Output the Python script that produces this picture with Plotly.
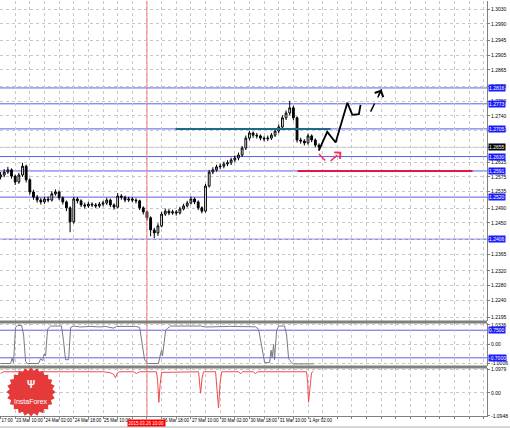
import numpy as np
import plotly.graph_objects as go
from plotly.subplots import make_subplots


GRID = "#C8C8C8"
AXIS = "#808080"
LEVEL_BLUE = "#5C5CF2"
LABEL_BLUE = "#1A1AFF"
TEAL = "#1F6A8A"
CRIMSON = "#E0184C"
FONT = "Liberation Sans"

# ---- price bars (x = hours from chart start, one candle per 2 H1 bars) ----
bar_hour = list(range(0, 176, 2))
bar_open = [1.2575, 1.2580, 1.2588, 1.2594, 1.2577, 1.2561, 1.2580, 1.2604, 1.2567, 1.2534,
            1.2520, 1.2512, 1.2507, 1.2515, 1.2512, 1.2529, 1.2534, 1.2518, 1.2507, 1.2491,
            1.2453, 1.2515, 1.2510, 1.2499, 1.2496, 1.2501, 1.2499, 1.2496, 1.2501, 1.2504,
            1.2512, 1.2499, 1.2493, 1.2523, 1.2520, 1.2512, 1.2515, 1.2512, 1.2510, 1.2491,
            1.2480, 1.2464, 1.2431, 1.2423, 1.2442, 1.2474, 1.2482, 1.2477, 1.2480, 1.2477,
            1.2488, 1.2496, 1.2504, 1.2515, 1.2507, 1.2491, 1.2482, 1.2550, 1.2588, 1.2594,
            1.2602, 1.2604, 1.2610, 1.2613, 1.2621, 1.2626, 1.2634, 1.2653, 1.2680, 1.2694,
            1.2688, 1.2686, 1.2680, 1.2678, 1.2680, 1.2688, 1.2699, 1.2710, 1.2735, 1.2748,
            1.2762, 1.2735, 1.2675, 1.2672, 1.2667, 1.2686, 1.2675, 1.2661]
bar_high = [1.2588, 1.2596, 1.2602, 1.2598, 1.2581, 1.2586, 1.2613, 1.2608, 1.2571, 1.2540,
            1.2526, 1.2518, 1.2521, 1.2522, 1.2536, 1.2541, 1.2538, 1.2522, 1.2511, 1.2495,
            1.2521, 1.2520, 1.2514, 1.2505, 1.2507, 1.2506, 1.2504, 1.2507, 1.2510, 1.2518,
            1.2516, 1.2503, 1.2531, 1.2528, 1.2524, 1.2521, 1.2520, 1.2517, 1.2513, 1.2495,
            1.2484, 1.2468, 1.2437, 1.2449, 1.2480, 1.2489, 1.2487, 1.2486, 1.2485, 1.2494,
            1.2502, 1.2510, 1.2522, 1.2519, 1.2511, 1.2495, 1.2556, 1.2594, 1.2601, 1.2608,
            1.2611, 1.2616, 1.2620, 1.2627, 1.2633, 1.2641, 1.2659, 1.2687, 1.2700, 1.2698,
            1.2694, 1.2690, 1.2685, 1.2687, 1.2694, 1.2705, 1.2717, 1.2742, 1.2755, 1.2781,
            1.2768, 1.2739, 1.2681, 1.2677, 1.2692, 1.2690, 1.2679, 1.2666]
bar_low = [1.2568, 1.2574, 1.2583, 1.2570, 1.2553, 1.2556, 1.2575, 1.2560, 1.2527, 1.2513,
           1.2505, 1.2500, 1.2502, 1.2506, 1.2508, 1.2524, 1.2512, 1.2500, 1.2482, 1.2425,
           1.2448, 1.2503, 1.2493, 1.2489, 1.2491, 1.2493, 1.2490, 1.2491, 1.2495, 1.2499,
           1.2493, 1.2486, 1.2489, 1.2513, 1.2506, 1.2507, 1.2506, 1.2503, 1.2485, 1.2473,
           1.2456, 1.2414, 1.2409, 1.2415, 1.2438, 1.2469, 1.2471, 1.2472, 1.2470, 1.2473,
           1.2484, 1.2492, 1.2500, 1.2501, 1.2485, 1.2476, 1.2478, 1.2546, 1.2582, 1.2589,
           1.2596, 1.2598, 1.2604, 1.2607, 1.2615, 1.2620, 1.2629, 1.2648, 1.2674, 1.2681,
           1.2679, 1.2674, 1.2671, 1.2672, 1.2675, 1.2683, 1.2693, 1.2705, 1.2729, 1.2742,
           1.2728, 1.2668, 1.2665, 1.2660, 1.2662, 1.2669, 1.2655, 1.2650]
bar_close = [1.2580, 1.2588, 1.2594, 1.2577, 1.2561, 1.2580, 1.2604, 1.2567, 1.2534, 1.2520,
             1.2512, 1.2507, 1.2515, 1.2512, 1.2529, 1.2534, 1.2518, 1.2507, 1.2491, 1.2453,
             1.2515, 1.2510, 1.2499, 1.2496, 1.2501, 1.2499, 1.2496, 1.2501, 1.2504, 1.2512,
             1.2499, 1.2493, 1.2523, 1.2520, 1.2512, 1.2515, 1.2512, 1.2510, 1.2491, 1.2480,
             1.2464, 1.2431, 1.2423, 1.2442, 1.2474, 1.2482, 1.2477, 1.2480, 1.2477, 1.2488,
             1.2496, 1.2504, 1.2515, 1.2507, 1.2491, 1.2482, 1.2550, 1.2588, 1.2594, 1.2602,
             1.2604, 1.2610, 1.2613, 1.2621, 1.2626, 1.2634, 1.2653, 1.2680, 1.2694, 1.2688,
             1.2686, 1.2680, 1.2678, 1.2680, 1.2688, 1.2699, 1.2710, 1.2735, 1.2748, 1.2762,
             1.2735, 1.2675, 1.2672, 1.2667, 1.2686, 1.2675, 1.2661, 1.2656]

last_price = 1.2655

# horizontal levels
blue_levels = [1.2816, 1.2773, 1.2705, 1.2630, 1.2591, 1.2520, 1.2406]
teal_level = 1.2705
teal_span = [95.6, 180.3]
red_level = 1.2591
red_span = [162.3, 257.9]
marker_hour = 80

# forecast sketch
path_x = [173.9, 178.5, 183.1, 189.5, 192.2, 195.8, 196.7]
path_y = [1.2646, 1.2697, 1.2668, 1.2776, 1.2743, 1.2745, 1.2770]
path2_x = [202.2, 208.2]
path2_y = [1.2752, 1.2812]
alt1_x = [174.0, 178.5]
alt1_y = [1.2637, 1.2613]
alt2_x = [180.3, 186.2]
alt2_y = [1.2618, 1.2643]

# indicator 1 (gray)
ind_x = [0, 5.5, 6.3, 7.1, 8.2, 9.3, 11.5, 12.6, 13.7, 14.8,
         20.8, 21.9, 23.0, 23.8, 24.6, 25.7, 27.3, 33.3, 34.4, 35.5,
         37.2, 38.3, 39.9, 43.7, 49.2, 54.6, 57.4, 60.1, 61.7, 63.4,
         73.8, 76.0, 77.6, 78.7, 80.3, 86.3, 87.4, 88.0, 88.5, 89.3,
         90.2, 91.3, 92.9, 109.3, 112.0, 125.7, 139.3, 141.0, 142.6, 144.3,
         147.0, 147.8, 148.4, 149.2, 149.7, 150.8, 151.9, 155.2, 156.3, 157.4,
         158.2, 159.0, 160.1, 171.0]
ind_v = [-1.0, -1.0, -0.72, -0.95, 0.9, 1.0, 1.0, 0.5, -0.9, -1.0,
         -1.0, -0.75, -0.85, -0.5, -0.6, 0.8, 0.97, 0.97, 0.2, -0.8,
         -0.8, 0.9, 0.97, 0.92, 0.95, 0.92, 0.95, 0.9, 0.86, 0.95,
         0.95, 0.9, 0.0, -0.8, -1.0, -1.0, -0.5, -0.3, -0.6, 0.2,
         0.75, 0.85, 0.97, 0.97, 0.92, 0.95, 0.93, 0.8, 0.0, -0.95,
         -0.95, -0.3, -0.7, 0.0, -0.8, 0.7, 0.97, 0.97, 0.5, -0.75,
         -0.85, -0.95, -1.02, -1.02]
ind_levels = [0.75, -0.70]
ind_ticks = [1.0336, 0.0, -1.0006]
ind_ticktext = ["1.0336", "0.00", "-1.0006"]

# indicator 2 (red)
osc_x = [0, 1.6, 56.3, 60.1, 61.7, 62.8, 63.9, 65.0, 72.7, 74.3,
         76.0, 85.2, 85.8, 86.5, 87.2, 88.0, 108.2, 108.7, 109.3, 110.1,
         110.9, 117.5, 118.3, 119.1, 119.9, 120.8, 130.1, 131.1, 132.2, 138.3,
         139.3, 140.4, 167.2, 167.8, 168.3, 169.1, 169.9, 171.0]
osc_v = [0.92, 1.0, 1.0, 0.95, 0.88, 0.72, 0.95, 1.0, 1.0, 0.92,
         1.0, 1.0, 0.6, -0.45, 0.4, 0.97, 1.0, 0.5, -0.02, 0.7,
         1.0, 1.0, 0.3, -0.72, 0.4, 1.0, 1.0, 0.9, 1.0, 1.0,
         0.9, 1.0, 1.0, 0.5, -0.45, 0.3, 0.95, 1.03]
osc_ticks = [1.0979, 0.0, -1.0948]
osc_ticktext = ["1.0979", "0.00", "-1.0948"]

# axes
price_ticks = [1.3030, 1.2990, 1.2945, 1.2905, 1.2865, 1.2820, 1.2780, 1.2740, 1.2700, 1.2655,
               1.2615, 1.2575, 1.2535, 1.2490, 1.2450, 1.2405, 1.2365, 1.2320, 1.2280, 1.2240,
               1.2195]
hidden_ticks = [1.2655, 1.2405]  # covered by the price labels on the chart
time_label_hours = [0, 8, 24, 40, 56, 88, 104, 120, 136, 152, 168]
time_labels = ["17:00", "23 Mar 10:00", "24 Mar 02:00", "24 Mar 18:00", "25 Mar 10:00",
               "26 Mar 18:00", "27 Mar 10:00", "30 Mar 02:00",
               "30 Mar 18:00", "31 Mar 10:00", "1 Apr 02:00"]
marker_label = "2015.03.26 10:00"

grid_hours = list(range(0, 272, 8))
grid_text = [time_labels[time_label_hours.index(h)] if h in time_label_hours else ""
             for h in grid_hours]
price_text = ["" if v in hidden_ticks else f"{v:.4f}" for v in price_ticks]

fig = make_subplots(rows=3, cols=1, shared_xaxes=True, vertical_spacing=0.0)

fig.add_trace(
    go.Candlestick(
        x=bar_hour, open=bar_open, high=bar_high, low=bar_low, close=bar_close,
        increasing=dict(line=dict(color="black", width=1), fillcolor="white"),
        decreasing=dict(line=dict(color="black", width=1), fillcolor="black"),
        whiskerwidth=0,
        hoverinfo="skip",
    ),
    row=1, col=1,
)

fig.add_trace(go.Scatter(x=path_x, y=path_y, mode="lines",
                         line=dict(color="black", width=1.8)), row=1, col=1)
fig.add_trace(go.Scatter(x=path2_x, y=path2_y, mode="lines",
                         line=dict(color="black", width=1.5, dash="dash")), row=1, col=1)
fig.add_trace(go.Scatter(x=alt1_x, y=alt1_y, mode="lines",
                         line=dict(color="#FF2A55", width=1.5, dash="dash")), row=1, col=1)
fig.add_trace(go.Scatter(x=alt2_x, y=alt2_y, mode="lines",
                         line=dict(color="#FF2A55", width=1.5, dash="dash")), row=1, col=1)

fig.add_trace(go.Scatter(x=ind_x, y=ind_v, mode="lines",
                         line=dict(color="#7A7A7A", width=1)), row=2, col=1)
fig.add_trace(go.Scatter(x=osc_x, y=osc_v, mode="lines",
                         line=dict(color="#EE4B4B", width=1)), row=3, col=1)

shapes = []
for lvl in blue_levels:
    shapes.append(dict(type="line", xref="paper", yref="y", x0=0, x1=1, y0=lvl, y1=lvl,
                       line=dict(color=LEVEL_BLUE, width=1), layer="below"))
shapes.append(dict(type="line", xref="paper", yref="y", x0=0, x1=1, y0=last_price, y1=last_price,
                   line=dict(color="#D0D0D0", width=1), layer="below"))
shapes.append(dict(type="line", xref="x", yref="y", x0=teal_span[0], x1=teal_span[1],
                   y0=teal_level, y1=teal_level, line=dict(color=TEAL, width=2)))
shapes.append(dict(type="line", xref="x", yref="y", x0=red_span[0], x1=red_span[1],
                   y0=red_level, y1=red_level, line=dict(color=CRIMSON, width=2)))
for lvl in ind_levels:
    shapes.append(dict(type="line", xref="paper", yref="y2", x0=0, x1=1, y0=lvl, y1=lvl,
                       line=dict(color=LEVEL_BLUE, width=1), layer="below"))
shapes.append(dict(type="line", xref="x", yref="paper", x0=marker_hour, x1=marker_hour,
                   y0=0, y1=1, line=dict(color="#F07C7C", width=1)))
# panel separators and borders
for yp in [0.2265, 0.1181]:
    shapes.append(dict(type="line", xref="paper", yref="paper", x0=0, x1=1, y0=yp, y1=yp,
                       line=dict(color=AXIS, width=3)))
shapes.append(dict(type="line", xref="paper", yref="paper", x0=0, x1=1.05, y0=-0.0265, y1=-0.0265,
                   line=dict(color="#B0B0B0", width=1)))

# InstaForex badge (decoration)
ang = np.linspace(0, 2 * np.pi, 49)[:-1]
rad = np.where(np.arange(48) % 2 == 0, 24.5, 21.5)
pts = [f"{r * np.cos(a):.2f},{r * np.sin(a):.2f}" for r, a in zip(rad, ang)]
badge_path = "M" + " L".join(pts) + " Z"
shapes.append(dict(type="path", xref="paper", yref="paper", xsizemode="pixel", ysizemode="pixel",
                   xanchor=0.0637, yanchor=0.0578, path=badge_path,
                   fillcolor="#E53A3A", line=dict(width=0), layer="above"))

annotations = []
for lvl in blue_levels:
    annotations.append(dict(xref="paper", yref="y", x=1, y=lvl, xanchor="left", xshift=1,
                            text=f"{lvl:.4f}", showarrow=False, bgcolor=LABEL_BLUE, borderpad=0,
                            font=dict(color="white", size=5, family=FONT)))
annotations.append(dict(xref="paper", yref="y", x=1, y=last_price, xanchor="left", xshift=1,
                        text=f"{last_price:.4f}", showarrow=False, bgcolor="black", borderpad=0,
                        font=dict(color="white", size=5, family=FONT)))
for lvl in ind_levels:
    annotations.append(dict(xref="paper", yref="y2", x=1, y=lvl, xanchor="left", xshift=1,
                            text=f"{lvl:.4f}", showarrow=False, bgcolor=LABEL_BLUE, borderpad=0,
                            font=dict(color="white", size=5, family=FONT)))
annotations.append(dict(xref="x", yref="paper", x=marker_hour, y=0, xanchor="center",
                        yanchor="top", yshift=-3,
                        text=marker_label, showarrow=False, bgcolor="#FF0000", borderpad=0.5,
                        font=dict(color="white", size=4.5, family=FONT)))
# arrow heads of the sketch
annotations.append(dict(xref="x", yref="y", axref="x", ayref="y",
                        x=path2_x[1], y=path2_y[1], ax=path2_x[1] - 2.5, ay=path2_y[1] - 0.0026,
                        text="", showarrow=True, arrowhead=4, arrowsize=1.3, arrowwidth=1.4,
                        arrowcolor="black"))
annotations.append(dict(xref="x", yref="y", axref="x", ayref="y",
                        x=alt2_x[1], y=alt2_y[1], ax=alt2_x[1] - 2.0, ay=alt2_y[1] - 0.0009,
                        text="", showarrow=True, arrowhead=4, arrowsize=1.2, arrowwidth=1.4,
                        arrowcolor="#FF2A55"))
annotations.append(dict(xref="paper", yref="paper", x=0.0637, y=0.0771, xanchor="center",
                        yanchor="middle", text="<b>Ψ</b>",
                        showarrow=False, font=dict(color="white", size=10, family=FONT)))
annotations.append(dict(xref="paper", yref="paper", x=0.0637, y=0.0361, xanchor="center",
                        yanchor="middle", text="InstaForex",
                        showarrow=False, font=dict(color="white", size=7, family=FONT)))

fig.update_layout(
    width=510,
    height=428,
    margin=dict(l=0, r=23, t=1, b=12),
    paper_bgcolor="white",
    plot_bgcolor="white",
    showlegend=False,
    font=dict(family=FONT, size=5, color="black"),
    shapes=shapes,
    annotations=annotations,
    hovermode=False,
)

fig.update_xaxes(
    range=[-0.3, 265.8],
    tickmode="array",
    tickvals=grid_hours,
    ticktext=grid_text,
    tickangle=0,
    showgrid=True,
    gridcolor=GRID,
    griddash="dot",
    gridwidth=1,
    zeroline=False,
    rangeslider_visible=False,
    showline=False,
)
fig.update_xaxes(showticklabels=True, ticklabelposition="outside right", ticks="outside",
                 ticklen=2, tickcolor=AXIS, tickfont=dict(size=4.5, family=FONT),
                 showline=True, linecolor=AXIS, row=3, col=1)

fig.update_yaxes(side="right", showgrid=True, gridcolor=GRID, griddash="dot", zeroline=False,
                 ticks="outside", ticklen=2, tickcolor=AXIS, showline=True, linecolor=AXIS,
                 linewidth=1, tickfont=dict(size=5, family=FONT))
fig.update_layout(
    yaxis=dict(domain=[0.2289, 1.0], range=[1.21842, 1.30517], tickmode="array",
               tickvals=price_ticks, ticktext=price_text),
    yaxis2=dict(domain=[0.1205, 0.2241], range=[-1.13, 1.13], tickmode="array",
                tickvals=ind_ticks, ticktext=ind_ticktext),
    yaxis3=dict(domain=[0.0, 0.1157], range=[-1.10, 1.18], tickmode="array",
                tickvals=osc_ticks, ticktext=osc_ticktext),
)

# the page body has a default 8px margin; drop it so the chart fills the window
fig.write_html("out.html", config={"displayModeBar": False},
               post_script="document.body.style.margin='0';")
